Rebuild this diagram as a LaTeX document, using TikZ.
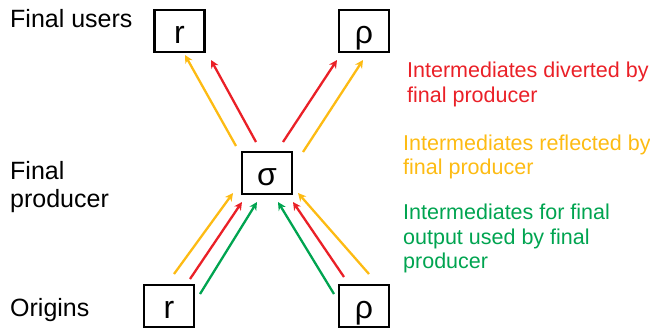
\documentclass[tikz,border=0pt]{standalone}
\usepackage{fontspec}
\setmainfont{Liberation Sans}
\usetikzlibrary{arrows.meta}
\definecolor{cred}{RGB}{234,32,39}
\definecolor{cyel}{RGB}{253,187,19}
\definecolor{cgrn}{RGB}{0,164,80}
\tikzset{
  box/.style={draw=black, line width=2.6pt, minimum width=50pt, minimum height=42pt,
    inner sep=0pt, text height=28pt, text depth=4pt, font=\fontsize{32}{32}\selectfont},
  lbl/.style={anchor=base west, inner sep=0pt, font=\fontsize{25}{28}\selectfont},
  leg/.style={anchor=base west, inner sep=0pt, font=\fontsize{21.5}{24}\selectfont},
  flow/.style={line width=2.3pt, -{Stealth[length=8pt,width=8pt,inset=2.5pt]}},
}
\begin{document}
\begin{tikzpicture}[x=1pt,y=-1pt]
\useasboundingbox (0,0) rectangle (650,327);
% boxes
\node[box] (ur) at (179.5,31) {r};
\node[box] (urho) at (364,31) {ρ};
\node[box] (sigma) at (267,173) {σ};
\node[box] (br) at (169,306) {r};
\node[box] (brho) at (364,306) {ρ};
% left labels
\node[lbl] (l1) at (10,27) {Final users};
\node[lbl] (l2a) at (10,179) {Final};
\node[lbl] (l2b) at (10,207) {producer};
\node[lbl] (l3) at (10,316) {Origins};
% legend
\node[leg, text=cred] (r1) at (407,77) {Intermediates diverted by};
\node[leg, text=cred] (r2) at (407,102) {final producer};
\node[leg, text=cyel] (y1) at (403,150) {Intermediates reflected by};
\node[leg, text=cyel] (y2) at (403,174) {final producer};
\node[leg, text=cgrn] (g1) at (403,219) {Intermediates for final};
\node[leg, text=cgrn] (g2) at (403,244) {output used by final};
\node[leg, text=cgrn] (g3) at (403,268) {producer};
% arrows to final users
\draw[flow, cyel] ([shift={(-31,-27)}]sigma.center) -- ([shift={(5.5,24)}]ur.center);
\draw[flow, cred] ([shift={(-11,-31)}]sigma.center) -- ([shift={(31.5,29)}]ur.center);
\draw[flow, cred] ([shift={(16,-31)}]sigma.center) -- ([shift={(-27,29)}]urho.center);
\draw[flow, cyel] ([shift={(36,-21)}]sigma.center) -- ([shift={(-1,29)}]urho.center);
% arrows from origins
\draw[flow, cyel] ([shift={(5,-32)}]br.center) -- ([shift={(-34,20)}]sigma.center);
\draw[flow, cred] ([shift={(21,-27)}]br.center) -- ([shift={(-25,29)}]sigma.center);
\draw[flow, cgrn] ([shift={(31,-12)}]br.center) -- ([shift={(-10,29)}]sigma.center);
\draw[flow, cgrn] ([shift={(-30,-12)}]brho.center) -- ([shift={(11,29)}]sigma.center);
\draw[flow, cred] ([shift={(-20,-29)}]brho.center) -- ([shift={(26,29)}]sigma.center);
\draw[flow, cyel] ([shift={(5,-32)}]brho.center) -- ([shift={(31,20)}]sigma.center);
\end{tikzpicture}
\end{document}
